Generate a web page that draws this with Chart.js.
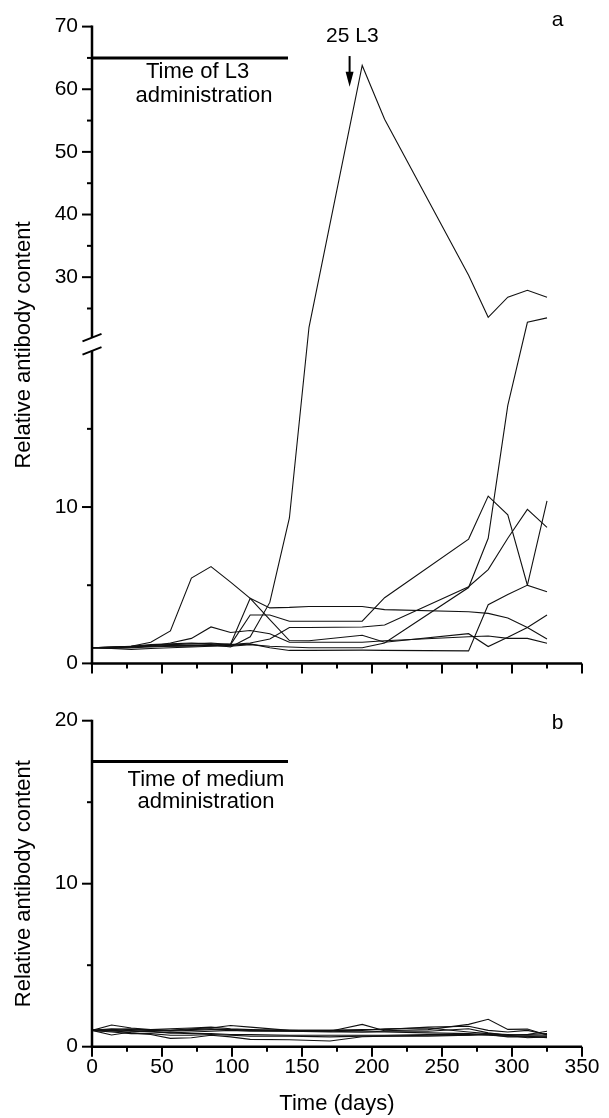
<!DOCTYPE html>
<html><head><meta charset="utf-8">
<script src="https://cdn.jsdelivr.net/npm/chart.js@4.4.1/dist/chart.umd.min.js"></script>
<style>
html,body{margin:0;padding:0;background:#fff;width:609px;height:1118px;overflow:hidden}
canvas{position:absolute;left:0}
</style></head>
<body>
<canvas id="ca" width="609" height="690" style="top:0px"></canvas>
<canvas id="cb" width="609" height="428" style="top:690px"></canvas>
<script>
// ---------- DATA ----------
// Panel a: sampling days and relative antibody content of each animal (L3 group)
const daysA = [0,14,28,42,56,71,85,99,113,127,141,155,193,209,269,283,297,311,325];
const animalA1 = [1.0,1.0,1.05,1.1,1.15,1.15,1.2,1.05,1.7,3.9,9.3,22.0,63.8,55.2,30.3,23.6,26.8,27.9,26.8];
const animalA2 = [1.0,0.95,1.0,1.05,1.1,1.1,1.15,1.1,1.2,1.1,1.05,1.0,1.0,1.3,4.85,8.0,16.5,22.8,23.5];
const animalA3 = [1.0,1.05,1.1,1.2,1.25,1.3,1.25,1.2,3.1,3.1,2.7,2.7,2.7,4.2,7.95,10.7,9.5,5.0,4.58];
const animalA4 = [1.0,1.0,1.05,1.1,1.1,1.15,1.15,1.25,4.16,3.55,3.58,3.64,3.64,3.44,3.3,3.2,2.9,2.3,1.56];
const animalA5 = [1.0,1.05,1.1,1.35,2.08,5.46,6.19,5.2,4.16,2.8,1.46,1.45,1.8,1.35,1.9,1.08,1.67,2.3,3.1];
const animalA6 = [1.0,1.0,1.05,1.1,1.3,1.6,2.33,1.98,2.1,1.9,1.35,1.35,1.35,1.45,1.7,1.75,1.6,1.6,1.29];
const animalA7 = [1.0,1.05,1.1,1.15,1.2,1.25,1.3,1.2,1.3,1.56,2.3,2.3,2.33,2.46,4.9,6.0,8.0,9.85,8.7];
const animalA8 = [1.0,0.95,0.9,0.95,1.0,1.05,1.1,1.15,1.25,1.0,0.83,0.83,0.85,0.83,0.8,3.75,4.4,5.0,10.4];

// Panel b: medium (control) group
const daysB = [0,14,28,42,56,71,85,99,113,141,170,193,209,240,269,283,297,311,325];
const animalB1 = [1.0,1.1,1.05,1.0,0.95,1.0,1.05,1.05,1.0,0.95,0.95,1.37,0.98,1.05,1.37,1.68,1.06,1.08,0.72];
const animalB2 = [1.0,1.33,1.15,1.05,1.0,1.1,1.15,1.3,1.2,1.0,1.0,1.05,1.05,1.2,1.25,1.0,0.9,1.0,0.75];
const animalB3 = [1.0,0.72,0.9,0.95,0.85,0.9,0.95,1.0,0.95,0.95,0.9,0.9,0.95,0.95,1.1,0.85,0.7,0.75,0.95];
const animalB4 = [1.0,1.0,0.85,0.75,0.51,0.55,0.7,0.6,0.45,0.43,0.35,0.61,0.65,0.7,0.7,0.75,0.6,0.6,0.6];
const animalB5 = [1.0,0.95,1.0,1.05,1.1,1.15,1.2,1.1,1.05,1.0,0.95,0.9,0.9,0.85,0.8,0.75,0.7,0.75,0.8];
const animalB6 = [1.0,0.9,0.8,0.8,0.7,0.7,0.75,0.7,0.65,0.65,0.6,0.65,0.65,0.65,0.7,0.8,0.7,0.55,0.6];
const animalB7 = [1.0,1.05,1.1,1.0,1.0,1.05,1.1,1.05,1.0,1.0,1.0,1.0,1.1,1.15,0.9,0.8,0.75,0.7,0.7];
const animalB8 = [1.0,1.0,0.95,0.9,0.85,0.8,0.8,0.75,0.75,0.7,0.7,0.7,0.7,0.75,0.75,0.7,0.65,0.65,0.55];

// administration period bars
const adminDays = [0, 140];
const adminLevelA = 65;
const adminLevelB = 17.5;
const boosterDay = 184;           // "25 L3" arrow

// ticks
const xTicks = [0,25,50,75,100,125,150,175,200,225,250,275,300,325,350];
const xLabelled = [0,50,100,150,200,250,300,350];
const yTicksA = [0,5,10,15,25,30,35,40,45,50,55,60,65,70];
const yLabelledA = [0,10,30,40,50,60,70];
const yTicksB = [0,5,10,15,20];
const yLabelledB = [0,10,20];

// broken axis (value -> fraction of plot height)
const breakSegments = [[0,0],[20,0.4911],[21.5,0.5229],[70,1]];
const breakMarks = [20, 20.98];

// ---------- CHART ----------
const FONT = '"Liberation Sans", Arial, Helvetica, sans-serif';
Chart.defaults.font.family = FONT;
Chart.defaults.font.size = 21;
Chart.defaults.color = '#000';

class BrokenScale extends Chart.LinearScale {
  buildTicks() { super.buildTicks(); return yTicksA.map(v => ({value: v})); }
  _frac(v) {
    const s = breakSegments;
    for (let i = 1; i < s.length; i++) {
      if (v <= s[i][0] || i === s.length - 1) {
        const [a, fa] = s[i-1], [b, fb] = s[i];
        return fa + (v - a) / (b - a) * (fb - fa);
      }
    }
  }
  getPixelForValue(v) { return this.getPixelForDecimal(this._frac(v)); }
  getValueForPixel(p) {
    const f = this.getDecimalForPixel(p), s = breakSegments;
    for (let i = 1; i < s.length; i++) {
      if (f <= s[i][1] || i === s.length - 1) {
        const [a, fa] = s[i-1], [b, fb] = s[i];
        return a + (f - fa) / (fb - fa) * (b - a);
      }
    }
  }
}
BrokenScale.id = 'broken';
BrokenScale.defaults = Chart.LinearScale.defaults;
Chart.register(BrokenScale);

const pts = (days, vals) => days.map((d, i) => ({x: d, y: vals[i]}));
const lineDs = (days, vals) => ({data: pts(days, vals), borderColor: '#111', borderWidth: 1.1,
  pointRadius: 0, tension: 0, fill: false});
const barDs = (level) => ({data: adminDays.map(d => ({x: d, y: level})), borderColor: '#000',
  borderWidth: 3, pointRadius: 0, borderCapStyle: 'butt'});

function L(ctx, x1, y1, x2, y2) { ctx.beginPath(); ctx.moveTo(x1, y1); ctx.lineTo(x2, y2); ctx.stroke(); }

function axesPlugin(yTicks, yMajor, broken) {
  return {
    id: 'axes',
    afterDraw(chart) {
      const {ctx, chartArea: ca, scales: {x, y}} = chart;
      ctx.save();
      ctx.strokeStyle = '#000'; ctx.lineCap = 'butt';
      ctx.lineWidth = 2.5;
      L(ctx, ca.left - 1.25, ca.bottom, ca.right, ca.bottom);
      if (broken) {
        const p1 = y.getPixelForValue(breakMarks[0]);
        const p2 = y.getPixelForValue(breakMarks[1]);
        L(ctx, ca.left, ca.bottom, ca.left, p1);
        L(ctx, ca.left, p2, ca.left, ca.top - 1);
        ctx.lineWidth = 2;
        [p1, p2].forEach(p => L(ctx, ca.left - 9.5, p + 4, ca.left + 9.5, p - 3.5));
      } else {
        L(ctx, ca.left, ca.bottom, ca.left, ca.top - 1);
      }
      ctx.lineWidth = 2;
      xTicks.forEach(v => {
        const px = x.getPixelForValue(v);
        L(ctx, px, ca.bottom, px, ca.bottom + (xLabelled.includes(v) ? 10 : 5));
      });
      yTicks.forEach(v => {
        const py = y.getPixelForValue(v);
        L(ctx, ca.left, py, ca.left - (yMajor.includes(v) ? 10 : 5), py);
      });
      ctx.restore();
    }
  };
}

function textPlugin(items) {
  return {
    id: 'texts',
    afterDraw(chart) {
      const {ctx, scales: {x, y}} = chart;
      ctx.save();
      ctx.fillStyle = '#000';
      ctx.textAlign = 'center'; ctx.textBaseline = 'middle';
      items.forEach(it => {
        ctx.font = (it.size || 21) + 'px ' + FONT;
        ctx.fillText(it.text, x.getPixelForValue(it.x), y.getPixelForValue(it.y));
      });
      ctx.restore();
    }
  };
}

const arrowPlugin = {
  id: 'arrow',
  afterDraw(chart) {
    const {ctx, scales: {x, y}} = chart;
    const px = x.getPixelForValue(boosterDay);
    const yTop = y.getPixelForValue(65.3), yTip = y.getPixelForValue(60.4);
    ctx.save();
    ctx.strokeStyle = '#000'; ctx.fillStyle = '#000'; ctx.lineWidth = 2;
    L(ctx, px, yTop, px, yTip - 10);
    ctx.beginPath(); ctx.moveTo(px - 4, yTip - 15); ctx.lineTo(px + 4, yTip - 15); ctx.lineTo(px, yTip); ctx.closePath(); ctx.fill();
    ctx.restore();
  }
};

const commonX = {
  type: 'linear', min: 0, max: 350,
  grid: {display: false, drawTicks: false}, border: {display: false}
};
const titleFont = {size: 22};

new Chart(document.getElementById('ca'), {
  type: 'line',
  data: {datasets: [
    lineDs(daysA, animalA1), lineDs(daysA, animalA2), lineDs(daysA, animalA3), lineDs(daysA, animalA4),
    lineDs(daysA, animalA5), lineDs(daysA, animalA6), lineDs(daysA, animalA7), lineDs(daysA, animalA8),
    barDs(adminLevelA)
  ]},
  options: {
    responsive: false, animation: false, devicePixelRatio: 1, events: [],
    layout: {padding: {top: 21.7, right: 27, left: 0, bottom: 16.7}},
    plugins: {legend: {display: false}, tooltip: {enabled: false}},
    scales: {
      x: Object.assign({}, commonX, {display: false}),
      y: {
        type: 'broken', min: 0, max: 70,
        grid: {display: false, drawTicks: false}, border: {display: false},
        ticks: {autoSkip: false, padding: 14, callback: v => yLabelledA.includes(v) ? String(v) : ''},
        title: {display: true, text: 'Relative antibody content', font: titleFont, padding: {top: 11, bottom: 0}},
        afterFit: s => { s.width = 92; }
      }
    }
  },
  plugins: [axesPlugin(yTicksA, yLabelledA, true), arrowPlugin, textPlugin([
    {text: 'Time of L3', x: 75.4, y: 62.7, size: 22},
    {text: 'administration', x: 80, y: 58.9, size: 22},
    {text: '25 L3', x: 186, y: 68.4, size: 21},
    {text: 'a', x: 332.5, y: 71.1, size: 21}
  ])]
});

new Chart(document.getElementById('cb'), {
  type: 'line',
  data: {datasets: [
    lineDs(daysB, animalB1), lineDs(daysB, animalB2), lineDs(daysB, animalB3), lineDs(daysB, animalB4),
    lineDs(daysB, animalB5), lineDs(daysB, animalB6), lineDs(daysB, animalB7), lineDs(daysB, animalB8),
    barDs(adminLevelB)
  ]},
  options: {
    responsive: false, animation: false, devicePixelRatio: 1, events: [],
    layout: {padding: {top: 30.7, right: 27, left: 0, bottom: 0}},
    plugins: {legend: {display: false}, tooltip: {enabled: false}},
    scales: {
      x: Object.assign({}, commonX, {
        ticks: {stepSize: 25, autoSkip: false, maxRotation: 0, padding: 8,
          callback: v => xLabelled.includes(v) ? String(v) : ''},
        title: {display: true, text: 'Time (days)', font: titleFont, padding: {top: 0, bottom: 1}},
        afterFit: s => { s.height = 428 - 356.7; }
      }),
      y: {
        type: 'linear', min: 0, max: 20,
        grid: {display: false, drawTicks: false}, border: {display: false},
        ticks: {stepSize: 5, autoSkip: false, padding: 14, callback: v => yLabelledB.includes(v) ? String(v) : ''},
        title: {display: true, text: 'Relative antibody content', font: titleFont, padding: {top: 11, bottom: 0}},
        afterFit: s => { s.width = 92; }
      }
    }
  },
  plugins: [axesPlugin(yTicksB, yLabelledB, false), textPlugin([
    {text: 'Time of medium', x: 81.4, y: 16.36, size: 22},
    {text: 'administration', x: 81.4, y: 15.0, size: 22},
    {text: 'b', x: 332.5, y: 19.84, size: 21}
  ])]
});
</script>
</body></html>
